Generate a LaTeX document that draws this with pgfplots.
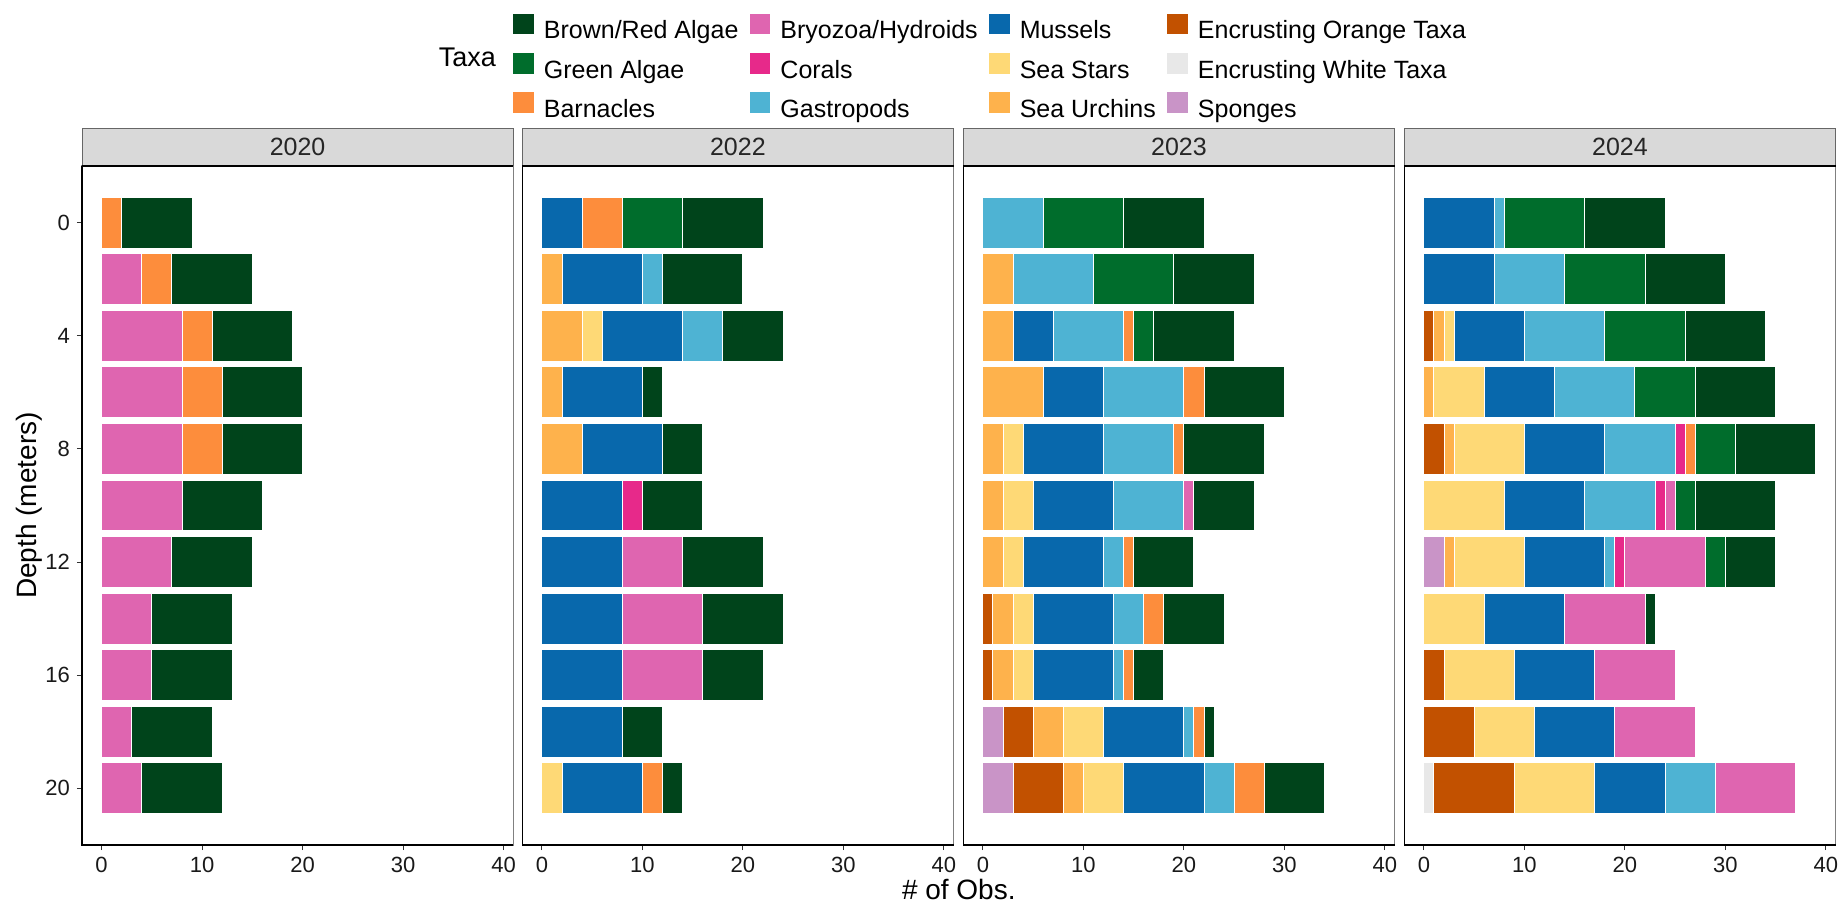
\documentclass[border=0pt]{standalone}
\usepackage{fontspec}
\setmainfont{Liberation Sans}
\usepackage{pgfplots}
\usepackage{pgfplotstable}
\pgfplotsset{compat=1.18}

\definecolor{cBR}{HTML}{00441B}
\definecolor{cGA}{HTML}{006D2C}
\definecolor{cBa}{HTML}{FD8D3C}
\definecolor{cBry}{HTML}{DF65B0}
\definecolor{cCo}{HTML}{E7298A}
\definecolor{cGa}{HTML}{4EB3D3}
\definecolor{cMu}{HTML}{0868AC}
\definecolor{cSS}{HTML}{FED976}
\definecolor{cSU}{HTML}{FEB24C}
\definecolor{cEO}{HTML}{C25100}
\definecolor{cEW}{HTML}{E8E8E8}
\definecolor{cSp}{HTML}{C994C7}
\definecolor{stripgray}{HTML}{D9D9D9}

% columns: Sponges, Encrusting White, Encrusting Orange, Sea Urchins, Sea Stars,
% Mussels, Gastropods, Corals, Bryozoa/Hydroids, Barnacles, Green Algae, Brown/Red Algae
\pgfplotstableread{
depth Sp EW EO SU SS Mu Ga Co Bry Ba GA BR
0  0 0 0 0 0 0 0 0 0 2 0 7
2  0 0 0 0 0 0 0 0 4 3 0 8
4  0 0 0 0 0 0 0 0 8 3 0 8
6  0 0 0 0 0 0 0 0 8 4 0 8
8  0 0 0 0 0 0 0 0 8 4 0 8
10 0 0 0 0 0 0 0 0 8 0 0 8
12 0 0 0 0 0 0 0 0 7 0 0 8
14 0 0 0 0 0 0 0 0 5 0 0 8
16 0 0 0 0 0 0 0 0 5 0 0 8
18 0 0 0 0 0 0 0 0 3 0 0 8
20 0 0 0 0 0 0 0 0 4 0 0 8
}\tA
\pgfplotstableread{
depth Sp EW EO SU SS Mu Ga Co Bry Ba GA BR
0  0 0 0 0 0 4 0 0 0 4 6 8
2  0 0 0 2 0 8 2 0 0 0 0 8
4  0 0 0 4 2 8 4 0 0 0 0 6
6  0 0 0 2 0 8 0 0 0 0 0 2
8  0 0 0 4 0 8 0 0 0 0 0 4
10 0 0 0 0 0 8 0 2 0 0 0 6
12 0 0 0 0 0 8 0 0 6 0 0 8
14 0 0 0 0 0 8 0 0 8 0 0 8
16 0 0 0 0 0 8 0 0 8 0 0 6
18 0 0 0 0 0 8 0 0 0 0 0 4
20 0 0 0 0 2 8 0 0 0 2 0 2
}\tB
\pgfplotstableread{
depth Sp EW EO SU SS Mu Ga Co Bry Ba GA BR
0  0 0 0 0 0 0 6 0 0 0 8 8
2  0 0 0 3 0 0 8 0 0 0 8 8
4  0 0 0 3 0 4 7 0 0 1 2 8
6  0 0 0 6 0 6 8 0 0 2 0 8
8  0 0 0 2 2 8 7 0 0 1 0 8
10 0 0 0 2 3 8 7 0 1 0 0 6
12 0 0 0 2 2 8 2 0 0 1 0 6
14 0 0 1 2 2 8 3 0 0 2 0 6
16 0 0 1 2 2 8 1 0 0 1 0 3
18 2 0 3 3 4 8 1 0 0 1 0 1
20 3 0 5 2 4 8 3 0 0 3 0 6
}\tC
\pgfplotstableread{
depth Sp EW EO SU SS Mu Ga Co Bry Ba GA BR
0  0 0 0 0 0 7 1 0 0 0 8 8
2  0 0 0 0 0 7 7 0 0 0 8 8
4  0 0 1 1 1 7 8 0 0 0 8 8
6  0 0 0 1 5 7 8 0 0 0 6 8
8  0 0 2 1 7 8 7 1 0 1 4 8
10 0 0 0 0 8 8 7 1 1 0 2 8
12 2 0 0 1 7 8 1 1 8 0 2 5
14 0 0 0 0 6 8 0 0 8 0 0 1
16 0 0 2 0 7 8 0 0 8 0 0 0
18 0 0 5 0 6 8 0 0 8 0 0 0
20 0 1 8 0 8 7 5 0 8 0 0 0
}\tD

\newcommand{\stackplots}[1]{%
\addplot[fill=cSp] table[x=Sp,y=depth]{#1};
\addplot[fill=cEW] table[x=EW,y=depth]{#1};
\addplot[fill=cEO] table[x=EO,y=depth]{#1};
\addplot[fill=cSU] table[x=SU,y=depth]{#1};
\addplot[fill=cSS] table[x=SS,y=depth]{#1};
\addplot[fill=cMu] table[x=Mu,y=depth]{#1};
\addplot[fill=cGa] table[x=Ga,y=depth]{#1};
\addplot[fill=cCo] table[x=Co,y=depth]{#1};
\addplot[fill=cBry] table[x=Bry,y=depth]{#1};
\addplot[fill=cBa] table[x=Ba,y=depth]{#1};
\addplot[fill=cGA] table[x=GA,y=depth]{#1};
\addplot[fill=cBR] table[x=BR,y=depth]{#1};
}
\newcommand{\axlines}{%
\draw[black, line width=0.8pt] (axis description cs:0,1) -- (axis description cs:0,0) -- (axis description cs:1,0);
}

\pgfplotsset{
  panel/.style={
    scale only axis, width=215.6pt, height=339.5pt,
    anchor=south west,
    xbar stacked, bar width=1.8,
    enlargelimits=false,
    xmin=-1.95, xmax=40.95, ymin=-2, ymax=22, y dir=reverse,
    xtick={0,10,20,30,40},
    xtick pos=left, ytick pos=left,
    tick align=outside, major tick length=2.5pt,
    tick style={black!80, line width=0.5pt},
    axis line style={black!50, line width=0.7pt},
    ticklabel style={font=\fontsize{11}{13}\selectfont, text=black!90},
    /pgf/number format/assume math mode=true,
    clip=false,
    every axis plot/.append style={draw=white, line width=0.5pt},
  },
}

\begin{document}
\begin{tikzpicture}
\path[use as bounding box] (0,0) rectangle (922pt,452pt);

\begin{axis}[panel, at={(41pt,29.5pt)}, ytick={0,4,8,12,16,20}]
\stackplots{\tA}
\axlines
\end{axis}

\begin{axis}[panel, at={(261.15pt,29.5pt)}, ytick=\empty]
\stackplots{\tB}
\axlines
\end{axis}

\begin{axis}[panel, at={(481.65pt,29.5pt)}, ytick=\empty]
\stackplots{\tC}
\axlines
\end{axis}

\begin{axis}[panel, at={(702.15pt,29.5pt)}, ytick=\empty]
\stackplots{\tD}
\axlines
\end{axis}

% facet strips
\foreach \xl/\yr in {41/2020, 261.15/2022, 481.65/2023, 702.15/2024} {
  \draw[fill=stripgray, draw=black!60, line width=0.5pt] (\xl pt,369pt) rectangle ++(215.6pt,18.85pt);
  \draw[black, line width=0.8pt] (\xl pt,369pt) -- ++(215.6pt,0pt);
  \node[font=\fontsize{12.5}{15}\selectfont, text=black!85] at (\xl pt+107.8pt,378.4pt) {\yr};
}

% legend
\begin{axis}[at={(256.65pt,445.15pt)}, anchor=south west, scale only axis,
  width=1pt, height=1pt, hide axis, xmin=0, xmax=1, ymin=0, ymax=1,
  legend columns=4, legend cell align=left,
  legend style={at={(axis description cs:0,0)}, anchor=north west, draw=none, fill=none,
    inner sep=0pt, outer sep=0pt, row sep=4pt,
    font=\fontsize{12.5}{15}\selectfont,
    nodes={inner sep=0pt, text height=9.5pt, text depth=3pt},
    /tikz/every odd column/.append style={column sep=5pt},
    /tikz/every even column/.append style={column sep=5.7pt}},
  legend image code/.code={\fill[#1] (0pt,-0.9pt) rectangle (10.3pt,9.4pt);}
]
\addlegendimage{fill=cBR, draw=none}\addlegendentry{Brown/Red Algae}
\addlegendimage{fill=cBry, draw=none}\addlegendentry{Bryozoa/Hydroids}
\addlegendimage{fill=cMu, draw=none}\addlegendentry{Mussels}
\addlegendimage{fill=cEO, draw=none}\addlegendentry{Encrusting Orange Taxa}
\addlegendimage{fill=cGA, draw=none}\addlegendentry{Green Algae}
\addlegendimage{fill=cCo, draw=none}\addlegendentry{Corals}
\addlegendimage{fill=cSS, draw=none}\addlegendentry{Sea Stars}
\addlegendimage{fill=cEW, draw=none}\addlegendentry{Encrusting White Taxa}
\addlegendimage{fill=cBa, draw=none}\addlegendentry{Barnacles}
\addlegendimage{fill=cGa, draw=none}\addlegendentry{Gastropods}
\addlegendimage{fill=cSU, draw=none}\addlegendentry{Sea Urchins}
\addlegendimage{fill=cSp, draw=none}\addlegendentry{Sponges}
\end{axis}

\node[anchor=east, font=\fontsize{13.5}{16}\selectfont] at (251.5pt,423.1pt) {Taxa};
\node[rotate=90, font=\fontsize{14}{16}\selectfont] at (14.5pt,199.25pt) {Depth (meters)};
\node[font=\fontsize{14}{16}\selectfont] at (479.4pt,7.5pt) {\# of Obs.};
\end{tikzpicture}
\end{document}
